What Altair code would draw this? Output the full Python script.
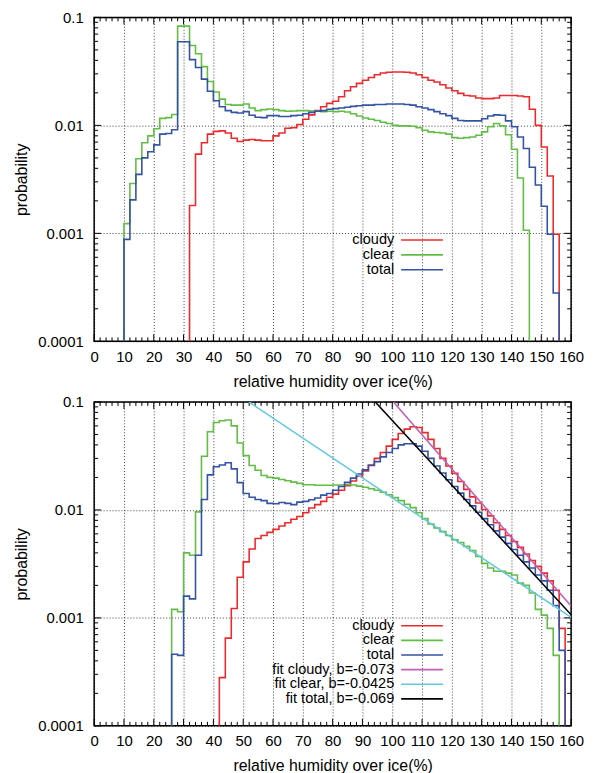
import altair as alt
import pandas as pd

FONT = "Liberation Sans"
W, H = 480, 326

SERIES = ["cloudy", "clear", "total"]
COLORS = ["#ec2a2e", "#62bd45", "#3553a4"]
FIT_NAMES = ["fit cloudy, b=-0.073", "fit clear, b=-0.0425", "fit total, b=-0.069"]
FIT_COLORS = ["#bf5fb5", "#62c7e0", "#000000"]

BIN_WIDTH = 2
FLOOR = 1e-4

# ---------------- top panel (bin start, width 2) ----------------
top_cloudy_start = 32
top_cloudy = [
    0.00181, 0.00542, 0.0069, 0.0083, 0.0088,
    0.0089, 0.0085, 0.0076, 0.0071, 0.0073,
    0.0074, 0.0073, 0.0072, 0.0072, 0.0080,
    0.0085, 0.0094, 0.0095, 0.0102, 0.0114,
    0.0125, 0.0137, 0.0149, 0.0160, 0.0167,
    0.0184, 0.0209, 0.0228, 0.0245, 0.0262,
    0.0278, 0.0294, 0.0306, 0.0310, 0.0312,
    0.0312, 0.0310, 0.0306, 0.0294, 0.0278,
    0.0262, 0.0252, 0.0238, 0.0222, 0.0209,
    0.0198, 0.0189, 0.0187, 0.0179, 0.0177,
    0.0177, 0.0179, 0.0189, 0.0189, 0.0189,
    0.0187, 0.0184, 0.0141, 0.0100, 0.0063,
    0.0034, 0.00098,
]
top_clear_start = 10
top_clear = [
    0.00123, 0.0029, 0.0049, 0.0069, 0.0080,
    0.0093, 0.0116, 0.0118, 0.0126, 0.083,
    0.083, 0.055, 0.046, 0.035, 0.0255,
    0.0204, 0.0175, 0.0156, 0.0154, 0.0154,
    0.0158, 0.0145, 0.0137, 0.0140, 0.0142,
    0.0140, 0.0137, 0.0135, 0.0136, 0.0137,
    0.0137, 0.0136, 0.0135, 0.0134, 0.0135,
    0.0134, 0.0135, 0.0133, 0.0128, 0.0122,
    0.0117, 0.0114, 0.0111, 0.0107, 0.0104,
    0.0100, 0.0099, 0.0099, 0.0098, 0.0095,
    0.0090, 0.0087, 0.0086, 0.0085, 0.0083,
    0.0077, 0.0076, 0.0077, 0.0078, 0.0081,
    0.0087, 0.0097, 0.0104, 0.0099, 0.0082,
    0.0060, 0.00325, 0.00107,
]
top_total_start = 10
top_total = [
    0.00088, 0.00204, 0.00352, 0.0050, 0.0057,
    0.0066, 0.0083, 0.0084, 0.0091, 0.0594,
    0.0594, 0.0406, 0.0343, 0.0268, 0.0207,
    0.0169, 0.0149, 0.0137, 0.0132, 0.0130,
    0.0134, 0.0124, 0.0119, 0.0118, 0.0123,
    0.0123, 0.0121, 0.0121, 0.0123, 0.0124,
    0.0128, 0.0132, 0.0135, 0.0137, 0.0141,
    0.0143, 0.0145, 0.0147, 0.0150, 0.0152,
    0.0154, 0.0154, 0.0156, 0.0156, 0.0158,
    0.0158, 0.0158, 0.0156, 0.0154, 0.0149,
    0.0145, 0.0140, 0.0134, 0.0128, 0.0123,
    0.0116, 0.0111, 0.0110, 0.0110, 0.0110,
    0.0115, 0.0122, 0.0125, 0.0124, 0.0110,
    0.0097, 0.0078, 0.0061, 0.0041, 0.0028,
    0.00178, 0.00098, 0.00028,
]

# ---------------- bottom panel ----------------
bot_cloudy_start = 42
bot_cloudy = [
    0.00028, 0.00065, 0.00122, 0.00238, 0.0033,
    0.00434, 0.00544, 0.0058, 0.0062, 0.0066,
    0.0071, 0.0076, 0.0082, 0.0087, 0.0094,
    0.0104, 0.0112, 0.0120, 0.0131, 0.0140,
    0.0152, 0.0168, 0.0185, 0.0205, 0.023,
    0.026, 0.030, 0.034, 0.039, 0.045,
    0.051, 0.056, 0.059, 0.058, 0.052,
    0.045, 0.037, 0.030, 0.0255, 0.0218,
    0.0183, 0.0155, 0.0132, 0.0116, 0.0101,
    0.0088, 0.0076, 0.0066, 0.0058, 0.0051,
    0.0045, 0.0039, 0.0034, 0.0030, 0.0026,
    0.0022, 0.0018, 0.0008,
]
bot_clear_start = 26
bot_clear = [
    0.0012, 0.00114, 0.0040, 0.0038, 0.0096,
    0.0314, 0.053, 0.0645, 0.067, 0.068,
    0.060, 0.0417, 0.0318, 0.0258, 0.0233,
    0.0208, 0.0200, 0.0197, 0.0191, 0.0186,
    0.0181, 0.0176, 0.0171, 0.0171, 0.0169,
    0.0169, 0.0169, 0.0170, 0.0170, 0.0172,
    0.0170, 0.0166, 0.0162, 0.0157, 0.0152,
    0.0146, 0.0138, 0.0130, 0.0122, 0.0113,
    0.0105, 0.0094, 0.0083, 0.0074, 0.0068,
    0.0063, 0.0058, 0.0053, 0.0050, 0.0046,
    0.0042, 0.0037, 0.0032, 0.0029, 0.0027,
    0.0027, 0.0026, 0.0025, 0.0021, 0.0020,
    0.0017, 0.0012, 0.00106, 0.0008, 0.00045,
]
bot_total_start = 26
bot_total = [
    0.00046, 0.00045, 0.00159, 0.0015, 0.0038,
    0.0125, 0.0211, 0.0251, 0.0261, 0.0273,
    0.0240, 0.0179, 0.0142, 0.0131, 0.0125,
    0.0122, 0.0115, 0.0114, 0.0117, 0.0115,
    0.0112, 0.0118, 0.0120, 0.0124, 0.0129,
    0.0137, 0.0142, 0.0152, 0.0165, 0.0180,
    0.0197, 0.0215, 0.0235, 0.0258, 0.028,
    0.031, 0.034, 0.037, 0.040, 0.041,
    0.041, 0.039, 0.035, 0.030, 0.0255,
    0.022, 0.019, 0.0165, 0.0143, 0.0125,
    0.0109, 0.0095, 0.0083, 0.0073, 0.0064,
    0.0056, 0.0049, 0.0043, 0.0038, 0.0033,
    0.0029, 0.0025, 0.0022, 0.0018, 0.0013,
    0.0005,
]

# exponential fits (straight on log axis): end points
fit_x0 = [100.4, 51.9, 94.3]
fit_p0 = [0.1, 0.1, 0.1]
fit_x1 = [160.0, 160.0, 160.0]
fit_p1 = [0.00129, 0.00101, 0.00107]

# axis ticks
X_LABELS = list(range(0, 161, 10))
X_MINOR = [v for v in range(0, 161, 2) if v % 10]
Y_LABELS = [1e-4, 1e-3, 1e-2, 1e-1]
Y_MINOR = [m * 10.0 ** e for e in (-4, -3, -2) for m in range(2, 10)]

# ---------------- chart ----------------
xscale = alt.Scale(domain=[0, 160], nice=False, zero=False)
yscale = alt.Scale(type="log", domain=[1e-4, 0.1], nice=False)

GRID = dict(grid=True, gridDash=[1, 2], gridColor="black", gridOpacity=0.75,
            gridWidth=1, ticks=False, domain=False, labelFlush=False,
            labelOverlap=False, labelBound=False)
x_axis = alt.Axis(title="relative humidity over ice(%)", values=X_LABELS,
                  format="d", labelPadding=8, titlePadding=9, **GRID)
y_axis = alt.Axis(title="probability", values=Y_LABELS, format="~g",
                  labelPadding=11, titlePadding=8, **GRID)

LEG_FONT = 14.6


def step_rows(start, vals):
    rows = [dict(x=start, p=FLOOR, i=0)]
    for k, v in enumerate(vals):
        rows.append(dict(x=start + k * BIN_WIDTH, p=v, i=k + 1))
    rows.append(dict(x=start + len(vals) * BIN_WIDTH, p=FLOOR, i=len(vals) + 1))
    return pd.DataFrame(rows)


def step_layer(start, vals, color):
    return alt.Chart(step_rows(start, vals)).mark_line(
        interpolate="step-after", color=color, strokeWidth=1.6, clip=True
    ).encode(
        x=alt.X("x:Q", scale=xscale, axis=x_axis),
        y=alt.Y("p:Q", scale=yscale, axis=y_axis),
        order="i:Q",
    )


def fit_layer(k):
    df = pd.DataFrame({"x": [fit_x0[k], fit_x1[k]], "p": [fit_p0[k], fit_p1[k]]})
    return alt.Chart(df).mark_line(color=FIT_COLORS[k], strokeWidth=1.5, clip=True).encode(
        x=alt.X("x:Q", scale=xscale, axis=x_axis),
        y=alt.Y("p:Q", scale=yscale, axis=y_axis),
    )


def tick_layers():
    out = []
    for vals, ln in ((X_MINOR, 4), (X_LABELS, 7)):
        df = pd.DataFrame({"v": vals})
        for y1, y2 in ((H, H - ln), (0, ln)):
            out.append(alt.Chart(df).mark_rule(color="black", strokeWidth=1).encode(
                x=alt.X("v:Q", scale=xscale, axis=x_axis),
                y=alt.value(y1), y2=alt.value(y2)))
    for vals, ln in ((Y_MINOR, 4), (Y_LABELS, 7)):
        df = pd.DataFrame({"v": vals})
        for x1, x2 in ((0, ln), (W, W - ln)):
            out.append(alt.Chart(df).mark_rule(color="black", strokeWidth=1).encode(
                y=alt.Y("v:Q", scale=yscale, axis=y_axis),
                x=alt.value(x1), x2=alt.value(x2)))
    return out


def legend_layers(names, colors, y0, dy):
    out = []
    for k, (n, c) in enumerate(zip(names, colors)):
        y = y0 + k * dy
        df = pd.DataFrame({"label": [n]})
        out.append(alt.Chart(df).mark_text(
            align="right", baseline="middle", font=FONT, fontSize=LEG_FONT, color="black"
        ).encode(text="label:N", x=alt.value(302), y=alt.value(y)))
        out.append(alt.Chart(df).mark_rule(color=c, strokeWidth=1.6).encode(
            x=alt.value(309), x2=alt.value(351), y=alt.value(y)))
    return out


top = alt.layer(
    *tick_layers(),
    step_layer(top_cloudy_start, top_cloudy, COLORS[0]),
    step_layer(top_clear_start, top_clear, COLORS[1]),
    step_layer(top_total_start, top_total, COLORS[2]),
    *legend_layers(SERIES, COLORS, 224, 15),
).properties(width=W, height=H)

bottom = alt.layer(
    *tick_layers(),
    step_layer(bot_cloudy_start, bot_cloudy, COLORS[0]),
    step_layer(bot_clear_start, bot_clear, COLORS[1]),
    step_layer(bot_total_start, bot_total, COLORS[2]),
    fit_layer(0), fit_layer(1), fit_layer(2),
    *legend_layers(SERIES + FIT_NAMES, COLORS + FIT_COLORS, 225.3, 14.7),
).properties(width=W, height=H)

chart = alt.vconcat(top, bottom, spacing=61, bounds="flush").properties(
    padding={"left": 4.7, "top": -1, "right": 2, "bottom": 0},
).configure_view(
    stroke="black", strokeWidth=1.5
).configure_axis(
    labelFont=FONT, titleFont=FONT, labelFontSize=15, titleFontSize=16,
    titleFontWeight="normal", labelColor="black", titleColor="black",
)

chart.save("out.html", embed_options={"renderer": "svg", "actions": False})
